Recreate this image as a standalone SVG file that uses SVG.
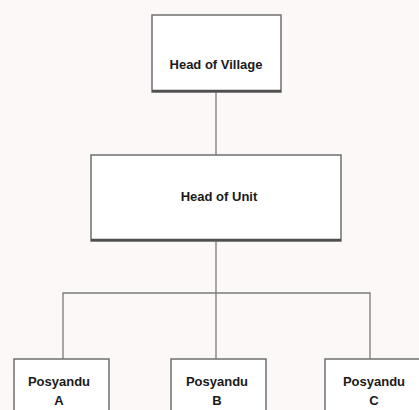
<svg xmlns="http://www.w3.org/2000/svg" width="419" height="410" viewBox="0 0 419 410">
<style>
.box{fill:#ffffff;stroke:#707070;stroke-width:1.5}
.sh{stroke:#505050;stroke-width:2.5}
.lbl{font-family:"Liberation Sans",Arial,sans-serif;font-weight:bold;font-size:13px;fill:#1a1a1a;text-anchor:middle}
.con{stroke:#7a7a7a;stroke-width:1.3;fill:none}
</style>
<rect x="0" y="0" width="419" height="410" fill="#fcf8f8"/>
<g id="connectors">
<line class="con" x1="216" y1="92" x2="216" y2="155"/>
<line class="con" x1="216" y1="241" x2="216" y2="359"/>
<polyline class="con" points="63,359 63,293 370,293 370,359"/>
</g>
<g id="head-of-village">
<rect class="box" x="152" y="15" width="129" height="77"/>
<line class="sh" x1="152" y1="91" x2="281" y2="91"/>
<text class="lbl" x="216" y="69">Head of Village</text>
</g>
<g id="head-of-unit">
<rect class="box" x="91" y="155" width="250" height="86"/>
<line class="sh" x1="91" y1="240" x2="341" y2="240"/>
<text class="lbl" x="219" y="201">Head of Unit</text>
</g>
<g id="posyandu-a">
<rect class="box" x="14" y="359" width="95" height="60"/>
<text class="lbl" x="59" y="386">Posyandu</text>
<text class="lbl" x="59" y="405">A</text>
</g>
<g id="posyandu-b">
<rect class="box" x="171" y="359" width="95" height="60"/>
<text class="lbl" x="217" y="386">Posyandu</text>
<text class="lbl" x="217" y="405">B</text>
</g>
<g id="posyandu-c">
<rect class="box" x="325" y="359" width="100" height="60"/>
<text class="lbl" x="374" y="386">Posyandu</text>
<text class="lbl" x="374" y="405">C</text>
</g>
</svg>
